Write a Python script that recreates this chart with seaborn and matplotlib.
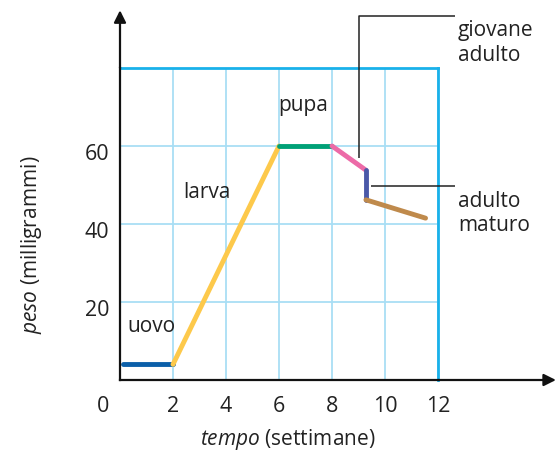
import pandas as pd
import matplotlib
matplotlib.use("Agg")
import matplotlib.pyplot as plt
import matplotlib.transforms as mtransforms
import seaborn as sns

# crescita di un insetto: peso (mg) nel tempo (settimane)
stages = ["uovo", "larva", "pupa", "giovane adulto", "muta", "adulto maturo"]
stage_x = [[0.12, 2.0], [2.0, 6.0], [6.0, 8.0], [8.0, 9.28], [9.28, 9.28], [9.28, 11.53]]
stage_y = [[4.0, 4.0], [4.0, 60.0], [60.0, 60.0], [60.0, 53.8], [53.8, 46.2], [46.2, 41.5]]
stage_colors = ["#0b5fa9", "#fdc94b", "#00a177", "#ec6aa7", "#4a58a8", "#bf8a4c"]

x_ticks = [0, 2, 4, 6, 8, 10, 12]
y_ticks = [20, 40, 60]

rows = []
for s, xs, ys in zip(stages, stage_x, stage_y):
    for x, y in zip(xs, ys):
        rows.append({"tempo": x, "peso": y, "stadio": s})
df = pd.DataFrame(rows)

sns.set_style("white")
plt.rcParams['font.family'] = ['Open Sans', 'DejaVu Sans']
plt.rcParams['mathtext.fontset'] = 'custom'
plt.rcParams['mathtext.it'] = 'Open Sans:italic'
plt.rcParams['mathtext.rm'] = 'Open Sans'
plt.rcParams['lines.solid_capstyle'] = 'round'

fig = plt.figure(figsize=(5.56, 4.57), dpi=100)
ax = fig.add_axes([120 / 556, 77 / 457, 318 / 556, 312 / 457])

sns.lineplot(data=df, x="tempo", y="peso", hue="stadio", hue_order=stages,
             palette=dict(zip(stages, stage_colors)), sort=False, estimator=None,
             linewidth=3.5, legend=False, ax=ax, zorder=3)

ax.set_xlim(0, 12)
ax.set_ylim(0, 80)
ax.set_xticks(range(0, 13, 2))
ax.set_yticks(range(0, 81, 20))
ax.grid(True, color="#a9def5", linewidth=1.3)
ax.set_axisbelow(True)
for side in ["top", "right"]:
    ax.spines[side].set_color("#19b1ea")
    ax.spines[side].set_linewidth(2)
for side in ["left", "bottom"]:
    ax.spines[side].set_color("#111111")
    ax.spines[side].set_linewidth(1.6)
    ax.spines[side].set_zorder(4)
ax.tick_params(length=0, labelbottom=False, labelleft=False)
ax.set_xlabel("")
ax.set_ylabel("")

# frecce degli assi
ax.annotate("", xy=(16.45, 0), xytext=(12, 0), annotation_clip=False,
            arrowprops=dict(arrowstyle="-|>", color="#111111", lw=1.6,
                            mutation_scale=18, shrinkA=0, shrinkB=0))
ax.annotate("", xy=(0, 94.8), xytext=(0, 80), annotation_clip=False,
            arrowprops=dict(arrowstyle="-|>", color="#111111", lw=1.6,
                            mutation_scale=18, shrinkA=0, shrinkB=0))

# etichette dei tick
off = mtransforms.offset_copy(ax.transData, fig=fig, x=0, y=-27, units="dots")
for t in x_ticks:
    dx = -0.65 if t == 0 else 0
    ax.text(t + dx, 0, str(t), transform=off, ha="center", va="center",
            fontsize=15.5, color="#222222")
offy = mtransforms.offset_copy(ax.transData, fig=fig, x=-11, y=-9, units="dots")
for t in y_ticks:
    ax.text(0, t, str(t), transform=offy, ha="right", va="center",
            fontsize=15.5, color="#222222")

# titoli degli assi
ax.text(0.528, -0.192, r"$\it{tempo}$ (settimane)", transform=ax.transAxes,
        ha="center", va="center", fontsize=15, color="#222222")
ax.text(-0.278, 0.433, r"$\it{peso}$ (milligrammi)", transform=ax.transAxes,
        ha="center", va="center", rotation=90, fontsize=15, color="#222222")

# nomi degli stadi
ax.text(0.26, 13.6, "uovo", ha="left", va="center", fontsize=15, color="#222222")
ax.text(2.38, 48.2, "larva", ha="left", va="center", fontsize=15, color="#222222")
ax.text(5.96, 70.3, "pupa", ha="left", va="center", fontsize=15, color="#222222")
ax.text(12.75, 86.4, "giovane\nadulto", ha="left", va="center", fontsize=15,
        linespacing=1.2, color="#222222", clip_on=False)
ax.text(12.75, 42.6, "adulto\nmaturo", ha="left", va="center", fontsize=15,
        linespacing=1.2, color="#222222", clip_on=False)

# linee di richiamo
ax.plot([9.03, 9.03, 12.64], [56.9, 93.3, 93.3], color="#222222", lw=1.1,
        clip_on=False, solid_capstyle="butt", zorder=5)
ax.plot([9.47, 12.64], [49.7, 49.7], color="#222222", lw=1.1,
        clip_on=False, solid_capstyle="butt", zorder=5)

fig.savefig("out.png", dpi=100)
